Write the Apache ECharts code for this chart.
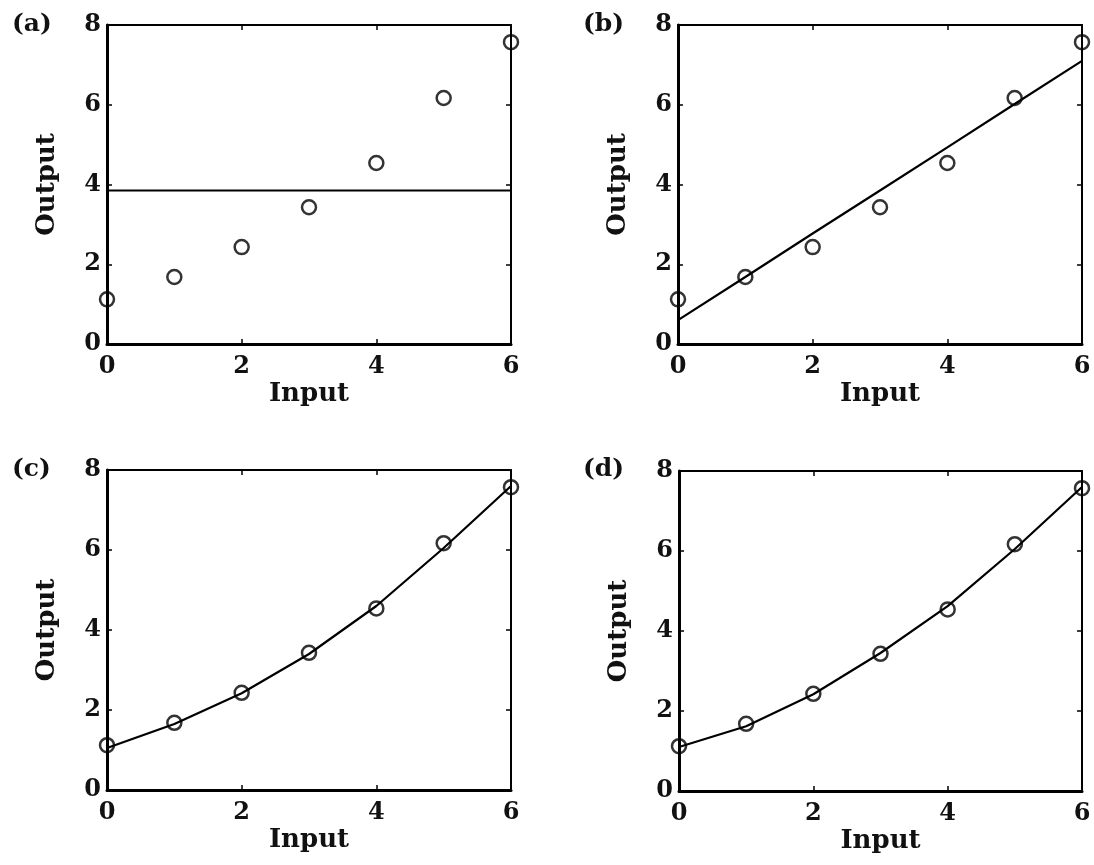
<!DOCTYPE html>
<html>
<head>
<meta charset="utf-8">
<script src="https://cdn.jsdelivr.net/npm/echarts@6/dist/echarts.min.js"></script>
<style>
html,body{margin:0;padding:0;background:#fff;}
#chart{width:1094px;height:865px;}
</style>
</head>
<body>
<div id="chart"></div>
<script>
// ---- data ----
const inputs = [0, 1, 2, 3, 4, 5, 6];
const outputs = [1.12, 1.68, 2.43, 3.43, 4.54, 6.17, 7.57];
const fitA = [3.85, 3.85, 3.85, 3.85, 3.85, 3.85, 3.85];
const fitB = [0.6, 1.68, 2.77, 3.85, 4.93, 6.02, 7.1];
const fitC = [1.05, 1.65, 2.42, 3.4, 4.6, 6.05, 7.6];
const fitD = [1.1, 1.62, 2.42, 3.45, 4.62, 6.05, 7.6];
const panelLabels = ['(a)', '(b)', '(c)', '(d)'];
const xTicks = [0, 2, 4, 6];
const yTicks = [0, 2, 4, 6, 8];
const xName = 'Input';
const yName = 'Output';
const fits = [fitA, fitB, fitC, fitD];

// ---- layout ----
const FONT = 'DejaVu Serif';
const grids = [
  {left: 107, top: 25, width: 404, height: 319},
  {left: 678, top: 25, width: 404, height: 319},
  {left: 107, top: 470, width: 404, height: 320},
  {left: 679, top: 471, width: 403, height: 320}
];
const labelPos = [[7, 7], [578, 7], [7, 452], [578, 452]];

const xAxes = [], yAxes = [], series = [], titles = [];
grids.forEach((g, i) => {
  const tickStyle = {show: true, inside: true, length: 5, lineStyle: {color: '#000', width: 1.5}};
  xAxes.push({
    gridIndex: i, type: 'value', min: 0, max: 6, interval: 2, position: 'bottom',
    name: xName, nameLocation: 'middle', nameGap: 37,
    nameTextStyle: {fontFamily: FONT, fontSize: 26, fontWeight: 'bold', color: '#111'},
    axisLine: {show: true, onZero: false, lineStyle: {color: '#000', width: 3}},
    axisTick: tickStyle,
    axisLabel: {fontFamily: FONT, fontSize: 24, fontWeight: 'bold', color: '#111', margin: 11,
      formatter: v => xTicks.includes(v) ? String(v) : ''},
    splitLine: {show: false}
  });
  xAxes.push({
    gridIndex: i, type: 'value', min: 0, max: 6, interval: 2, position: 'top',
    axisLine: {show: true, onZero: false, lineStyle: {color: '#000', width: 2}},
    axisTick: tickStyle, axisLabel: {show: false}, splitLine: {show: false}
  });
  yAxes.push({
    gridIndex: i, type: 'value', min: 0, max: 8, interval: 2, position: 'left',
    name: yName, nameLocation: 'middle', nameGap: 47, nameRotate: 90,
    nameTextStyle: {fontFamily: FONT, fontSize: 26, fontWeight: 'bold', color: '#111'},
    axisLine: {show: true, onZero: false, lineStyle: {color: '#000', width: 3}},
    axisTick: tickStyle,
    axisLabel: {fontFamily: FONT, fontSize: 24, fontWeight: 'bold', color: '#111', margin: 6,
      formatter: v => yTicks.includes(v) ? String(v) : ''},
    splitLine: {show: false}
  });
  yAxes.push({
    gridIndex: i, type: 'value', min: 0, max: 8, interval: 2, position: 'right',
    axisLine: {show: true, onZero: false, lineStyle: {color: '#000', width: 2}},
    axisTick: tickStyle, axisLabel: {show: false}, splitLine: {show: false}
  });
  series.push({
    type: 'line', xAxisIndex: 2 * i, yAxisIndex: 2 * i,
    data: inputs.map((x, k) => [x, fits[i][k]]),
    symbol: 'none', smooth: false,
    lineStyle: {color: '#000', width: 2.2}, z: 2, silent: true
  });
  series.push({
    type: 'scatter', xAxisIndex: 2 * i, yAxisIndex: 2 * i,
    data: inputs.map((x, k) => [x, outputs[k]]),
    symbol: 'circle', symbolSize: 14, clip: false,
    itemStyle: {color: 'rgba(0,0,0,0)', borderColor: '#000', borderWidth: 2.5},
    z: 3, silent: true
  });
  titles.push({
    text: panelLabels[i], left: labelPos[i][0], top: labelPos[i][1],
    textStyle: {fontFamily: FONT, fontSize: 25, fontWeight: 'bold', color: '#111'}
  });
});

const chart = echarts.init(document.getElementById('chart'), null, {renderer: 'canvas'});
chart.setOption({
  animation: false,
  backgroundColor: '#fff',
  title: titles,
  grid: grids.map(g => Object.assign({containLabel: false}, g)),
  xAxis: xAxes,
  yAxis: yAxes,
  series: series
});
</script>
</body>
</html>
